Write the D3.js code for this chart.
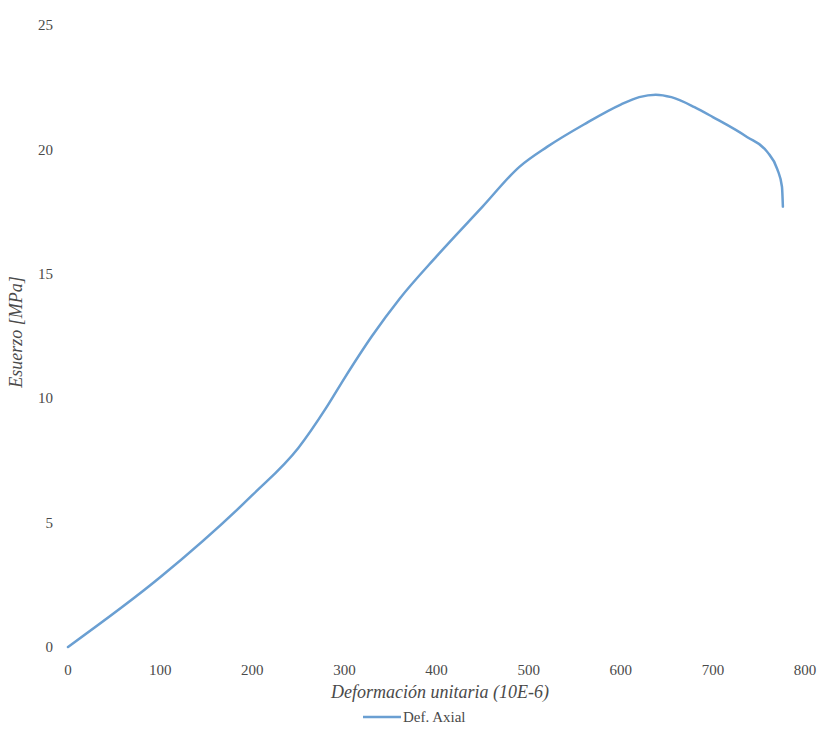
<!DOCTYPE html>
<html>
<head>
<meta charset="utf-8">
<script src="https://cdn.jsdelivr.net/npm/d3@7"></script>
<style>
  html, body { margin: 0; padding: 0; background: #ffffff; }
  svg { display: block; }
</style>
</head>
<body>
<div id="chart"></div>
<script>
// ---- data ----
const strain = [0, 100, 200, 250, 280, 300, 330, 360, 400, 450, 490, 520, 560, 600, 620, 638, 655, 680, 700, 737, 759, 770, 775, 776];
const stress = [0, 2.8, 6.1, 8.0, 9.6, 10.8, 12.5, 14.0, 15.7, 17.7, 19.3, 20.1, 21.0, 21.8, 22.1, 22.2, 22.1, 21.7, 21.3, 20.5, 19.9, 19.2, 18.5, 17.7];
const xTicks = [0, 100, 200, 300, 400, 500, 600, 700, 800];
const yTicks = [0, 5, 10, 15, 20, 25];
const seriesName = "Def. Axial";
const xTitle = "Deformación unitaria (10E-6)";
const yTitle = "Esuerzo [MPa]";

// ---- layout ----
const W = 835, H = 751;
const svg = d3.select("#chart").append("svg").attr("width", W).attr("height", H);

const x = d3.scaleLinear().domain([0, 800]).range([68, 805]);
const y = d3.scaleLinear().domain([0, 25]).range([647, 25]);

const textColor = "#4a4a4a";
const lineColor = "#6a9fd2";
const font = "'Liberation Serif', 'DejaVu Serif', serif";

// y tick labels
svg.append("g").selectAll("text").data(yTicks).join("text")
  .attr("x", 53).attr("y", d => y(d))
  .attr("dy", "0.35em")
  .attr("text-anchor", "end")
  .attr("font-family", font).attr("font-size", 15)
  .attr("fill", textColor)
  .text(d => d);

// x tick labels
svg.append("g").selectAll("text").data(xTicks).join("text")
  .attr("x", d => x(d)).attr("y", 670)
  .attr("dy", "0.35em")
  .attr("text-anchor", "middle")
  .attr("font-family", font).attr("font-size", 15)
  .attr("fill", textColor)
  .text(d => d);

// axis titles
svg.append("text")
  .attr("x", 440).attr("y", 698)
  .attr("text-anchor", "middle")
  .attr("font-family", font).attr("font-size", 18).attr("font-style", "italic")
  .attr("fill", textColor)
  .text(xTitle);

svg.append("text")
  .attr("transform", "translate(22,332) rotate(-90)")
  .attr("text-anchor", "middle")
  .attr("font-family", font).attr("font-size", 18).attr("font-style", "italic")
  .attr("fill", textColor)
  .text(yTitle);

// line
const pts = strain.map((s, i) => [s, stress[i]]);
svg.append("path")
  .datum(pts)
  .attr("d", d3.line().x(d => x(d[0])).y(d => y(d[1])).curve(d3.curveMonotoneX))
  .attr("fill", "none")
  .attr("stroke", lineColor)
  .attr("stroke-width", 2.5)
  .attr("stroke-linejoin", "round")
  .attr("stroke-linecap", "round");

// legend
svg.append("line")
  .attr("x1", 363).attr("x2", 401).attr("y1", 717).attr("y2", 717)
  .attr("stroke", lineColor).attr("stroke-width", 2.5);
svg.append("text")
  .attr("x", 403).attr("y", 717).attr("dy", "0.35em")
  .attr("font-family", font).attr("font-size", 15)
  .attr("fill", textColor)
  .text(seriesName);
</script>
</body>
</html>
